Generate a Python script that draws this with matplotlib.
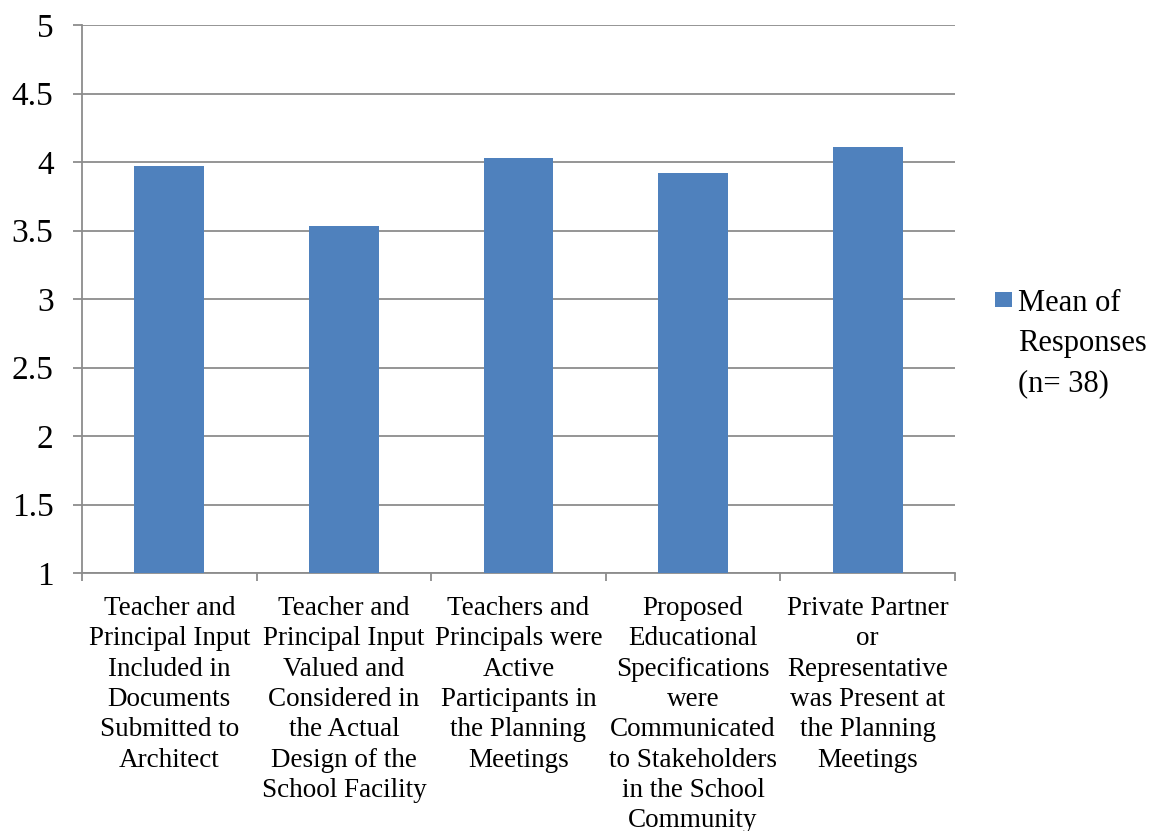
import matplotlib.pyplot as plt
from matplotlib.patches import Rectangle
import numpy as np

plt.rcParams['font.family'] = ['Liberation Serif', 'DejaVu Serif']

categories = [
    'Teacher and\nPrincipal Input\nIncluded in\nDocuments\nSubmitted to\nArchitect',
    'Teacher and\nPrincipal Input\nValued and\nConsidered in\nthe Actual\nDesign of the\nSchool Facility',
    'Teachers and\nPrincipals were\nActive\nParticipants in\nthe Planning\nMeetings',
    'Proposed\nEducational\nSpecifications\nwere\nCommunicated\nto Stakeholders\nin the School\nCommunity',
    'Private Partner\nor\nRepresentative\nwas Present at\nthe Planning\nMeetings',
]
means = [3.97, 3.53, 4.03, 3.92, 4.11]
yticks = [1, 1.5, 2, 2.5, 3, 3.5, 4, 4.5, 5]
ytick_labels = ['1', '1.5', '2', '2.5', '3', '3.5', '4', '4.5', '5']
series_label = 'Mean of\nResponses\n(n= 38)'

grey = '#8c8c8c'
blue = '#4f81bd'
W, H = 1154, 831

fig = plt.figure(figsize=(W / 100, H / 100), dpi=100)
ax = fig.add_axes([82 / W, 1 - 573 / H, (955 - 82) / W, (573 - 25) / H])

x = np.arange(len(means))
bars = ax.bar(x, [m - 1 for m in means], bottom=1, width=0.4, color=blue, zorder=3)

ax.set_xlim(-0.5, len(means) - 0.5)
ax.set_ylim(1, 5)
ax.set_yticks(yticks)
ax.set_yticklabels(ytick_labels, fontsize=24)
ax.yaxis.grid(True, color=grey, linewidth=1.3, zorder=0)

# category labels centred, tick marks at the boundaries
ax.set_xticks(x)
ax.set_xticklabels(categories, fontsize=19.5, linespacing=1.28)
ax.tick_params(axis='x', length=0, pad=16.5)
ax.set_xticks(np.arange(len(means) + 1) - 0.5, minor=True)
ax.tick_params(axis='x', which='minor', length=5.5, color=grey, width=1.3)
ax.tick_params(axis='y', length=6.5, color=grey, width=1.3, pad=14)

for s in ['top', 'right']:
    ax.spines[s].set_visible(False)
for s in ['left', 'bottom']:
    ax.spines[s].set_color(grey)
    ax.spines[s].set_linewidth(1.3)

# legend: square swatch next to the first line of the label
fig.patches.append(Rectangle((995 / W, 1 - 307 / H), 17 / W, 15 / H,
                             transform=fig.transFigure,
                             facecolor=bars.patches[0].get_facecolor(),
                             edgecolor='none'))
fig.text(1018 / W, 1 - 289 / H, series_label, fontsize=22,
         linespacing=1.5, va='top', ha='left')

fig.savefig('out.png', dpi=100)
